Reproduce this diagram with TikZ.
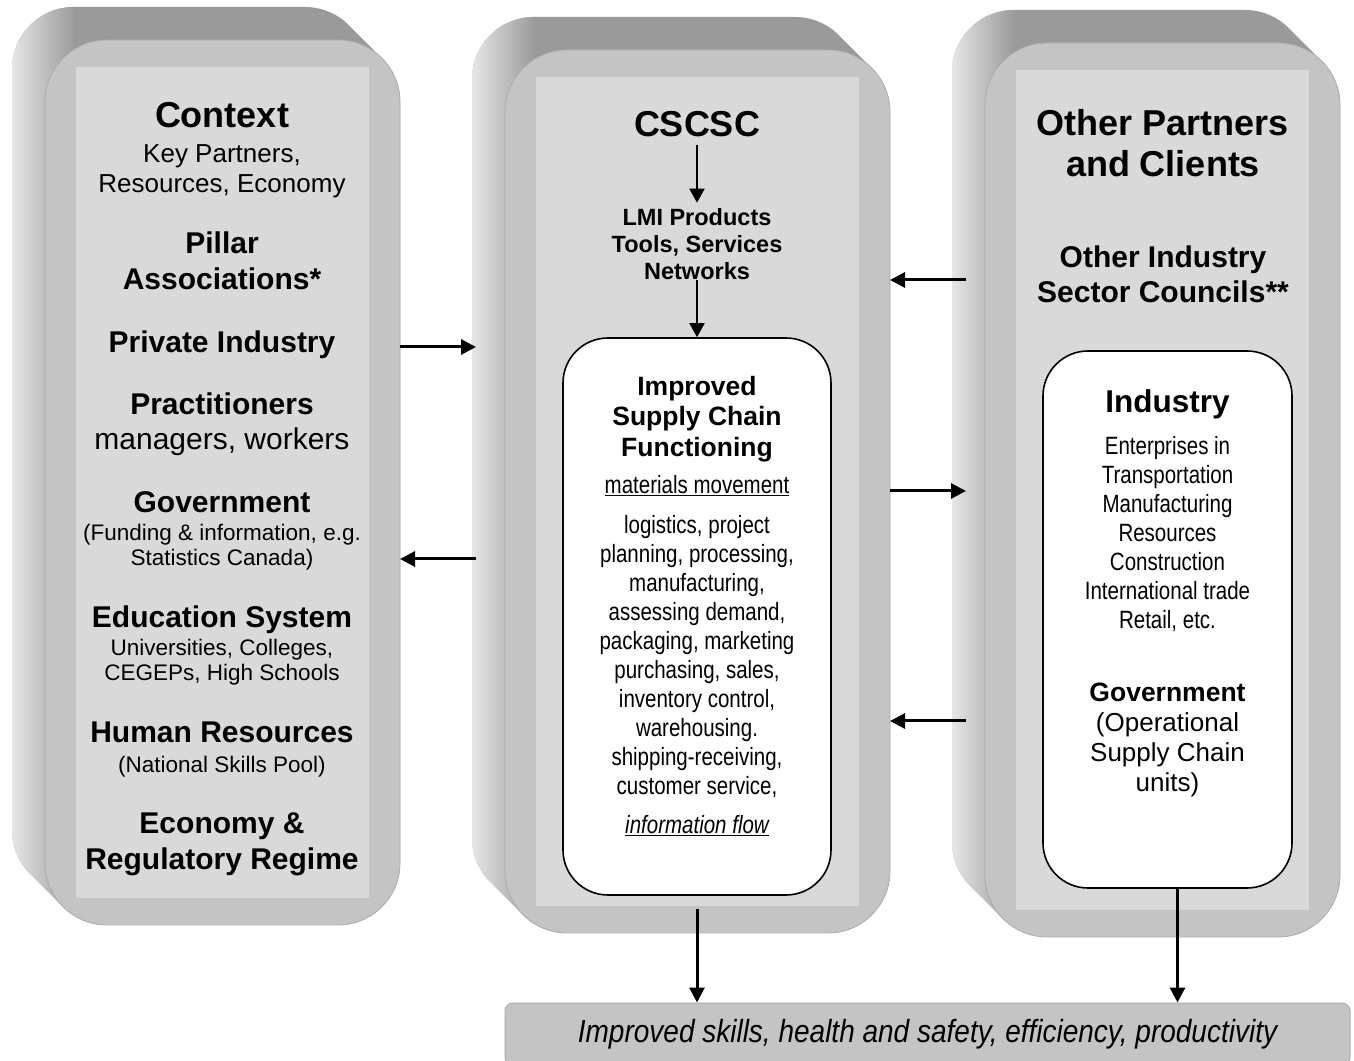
\documentclass[tikz,border=0pt]{standalone}
\usepackage{fontspec}
\setmainfont{Liberation Sans}
\newfontfamily\narrowfont[FakeStretch=0.82]{Liberation Sans}
\newfontfamily\barfont[FakeStretch=0.875]{Liberation Sans}
\usetikzlibrary{arrows.meta,positioning}

\definecolor{topface}{HTML}{9A9A9A}
\definecolor{sidelight}{HTML}{E6E6E6}
\definecolor{sidemid}{HTML}{D0D0D0}
\definecolor{front}{HTML}{C4C4C4}
\definecolor{frontedge}{HTML}{ACACAC}
\definecolor{inner}{HTML}{D9D9D9}

\tikzset{
  face/.style={fill=front, draw=frontedge, line width=0.8pt, rounded corners=62pt},
  panel/.style={fill=inner},
  card/.style={fill=white, draw=black, line width=1.6pt, rounded corners=45pt},
  bar/.style={fill=front, draw=frontedge, line width=1pt, rounded corners=8pt,
    font=\barfont\fontsize{32}{36}\selectfont\itshape},
  txt/.style={inner sep=0pt, align=center, anchor=north},
  colhead/.style={txt, font=\fontsize{36}{41}\selectfont\bfseries},
  grouphead/.style={txt, font=\fontsize{30}{36}\selectfont\bfseries},
  cardhead/.style={txt, font=\fontsize{26.5}{30.5}\selectfont\bfseries},
  smallhead/.style={txt, font=\fontsize{23.5}{27}\selectfont\bfseries},
  grouptext/.style={txt, font=\fontsize{26}{30}\selectfont},
  smalltext/.style={txt, font=\fontsize{22.5}{25.5}\selectfont},
  listtext/.style={txt, font=\narrowfont\fontsize{25}{29}\selectfont},
  flow/.style={line width=3pt, -{Triangle[length=15pt,width=15pt]}},
  thin flow/.style={line width=2pt, -{Triangle[length=14pt,width=15pt]}},
}

% solid column seen from the front: left, bottom, right, top of the front face
\newcommand{\solidcol}[4]{%
  \begin{scope}
    \clip (#1-33,#4-29) arc[start angle=180,end angle=90,radius=62]
      -- (#3-95,#4+33) arc[start angle=90,end angle=45,radius=62]
      -- (#3-18.16,#4-18.16) arc[start angle=45,end angle=0,radius=62]
      -- (#3,#2+62) arc[start angle=0,end angle=-90,radius=62]
      -- (#1+62,#2) arc[start angle=-90,end angle=-135,radius=62]
      -- (#1-14.84,#2+51.16) arc[start angle=225,end angle=180,radius=62]
      -- cycle;
    \fill[topface] (#1-40,#2-5) rectangle (#3+5,#4+40);
    \shade[left color=sidelight, middle color=sidemid, right color=topface]
      (#1-33,#2) rectangle (#1+30,#4+33);
  \end{scope}
  \draw[face] (#1,#2) rectangle (#3,#4);
  \fill[panel] (#1+31,#2+27) rectangle (#3-31,#4-27);
}

\begin{document}
\begin{tikzpicture}[x=1pt,y=1pt]
\useasboundingbox (0,0) rectangle (1354,1060);

\solidcol{45}{135}{400}{1020}
\solidcol{505}{127}{890}{1010}
\solidcol{985}{123}{1340}{1017}

% outcome along the bottom
\node[bar, minimum width=845, minimum height=62] (outcome) at (927.5,26)
  {Improved skills, health and safety, efficiency, productivity};

% white cards
\node[card, minimum width=268, minimum height=557] (scbox) at (697,443.5) {};
\node[card, minimum width=249, minimum height=537] (indbox) at (1167.5,440.5) {};

% left column
\node[colhead] (ctx) at (222,958) {Context};
\node[grouptext] (ctxsub) at (222,915.7) {Key Partners,\\Resources, Economy};
\node[grouphead] (pillar) at (222,828.6) {Pillar\\Associations*};
\node[grouphead] (private) at (222,729.6) {Private Industry};
\node[grouphead] (pract) at (222,667) {Practitioners};
\node[grouphead, font=\fontsize{30}{36}\selectfont] (practsub) at (222,632) {managers, workers};
\node[grouphead] (gov) at (222,568.6) {Government};
\node[smalltext] (govsub) at (222,536.3) {(Funding \& information, e.g.\\Statistics Canada)};
\node[grouphead] (edu) at (222,454.6) {Education System};
\node[smalltext] (edusub) at (222,421.3) {Universities, Colleges,\\CEGEPs, High Schools};
\node[grouphead] (hr) at (222,338.6) {Human Resources};
\node[smalltext] (hrsub) at (222,304.5) {(National Skills Pool)};
\node[grouphead] (econ) at (222,247.6) {Economy \&\\Regulatory Regime};

% middle column
\node[colhead] (cscsc) at (697,949) {CSCSC};
\node[smallhead] (lmi) at (697,851.3) {LMI Products\\Tools, Services\\Networks};
\node[cardhead] (sctitle) at (697,684) {Improved\\Supply Chain\\Functioning};
\node[listtext] (matmov) at (697,585) {\underline{materials movement}};
\node[listtext] (tasks) at (697,545) {logistics, project\\planning, processing,\\manufacturing,\\assessing demand,\\packaging, marketing\\purchasing, sales,\\inventory control,\\warehousing.\\shipping-receiving,\\customer service,};
\node[listtext] (infoflow) at (697,245) {\underline{\itshape information flow}};

% right column
\node[colhead] (partners) at (1163,951) {Other Partners\\and Clients};
\node[grouphead, font=\fontsize{30}{35}\selectfont\bfseries] (councils) at (1163,814) {Other Industry\\Sector Councils**};
\node[grouphead, font=\fontsize{31.5}{36}\selectfont\bfseries] (industry) at (1167.5,671) {Industry};
\node[listtext] (sectors) at (1167.5,624) {Enterprises in\\Transportation\\Manufacturing\\Resources\\Construction\\International trade\\Retail, etc.};
\node[cardhead] (govops) at (1167.5,377) {Government};
\node[grouptext] (govopssub) at (1167.5,347.3) {(Operational\\Supply Chain\\units)};

% arrow ends between the columns
\coordinate (leftout) at (400,713);
\coordinate (midin) at (476,713);
\coordinate (midout) at (476,501);
\coordinate (leftin) at (400,501);
\coordinate (rightout) at (966,780);
\coordinate (midin2) at (890,780);
\coordinate (midout2) at (890,569);
\coordinate (rightin) at (966,569);
\coordinate (rightout2) at (966,339);
\coordinate (midin3) at (890,339);

\draw[flow] (leftout) -- (midin);
\draw[flow] (midout) -- (leftin);
\draw[flow] (rightout) -- (midin2);
\draw[flow] (midout2) -- (rightin);
\draw[flow] (rightout2) -- (midin3);

\draw[thin flow, shorten <=8pt, shorten >=6pt] (cscsc) -- (lmi);
\draw[thin flow] (lmi) -- (scbox);
\draw[flow] ([yshift=-13pt]scbox.south) -- (scbox.south |- outcome.north);
\draw[flow] ([xshift=10pt]indbox.south) -- ([xshift=10pt]indbox.south |- outcome.north);
\end{tikzpicture}
\end{document}
